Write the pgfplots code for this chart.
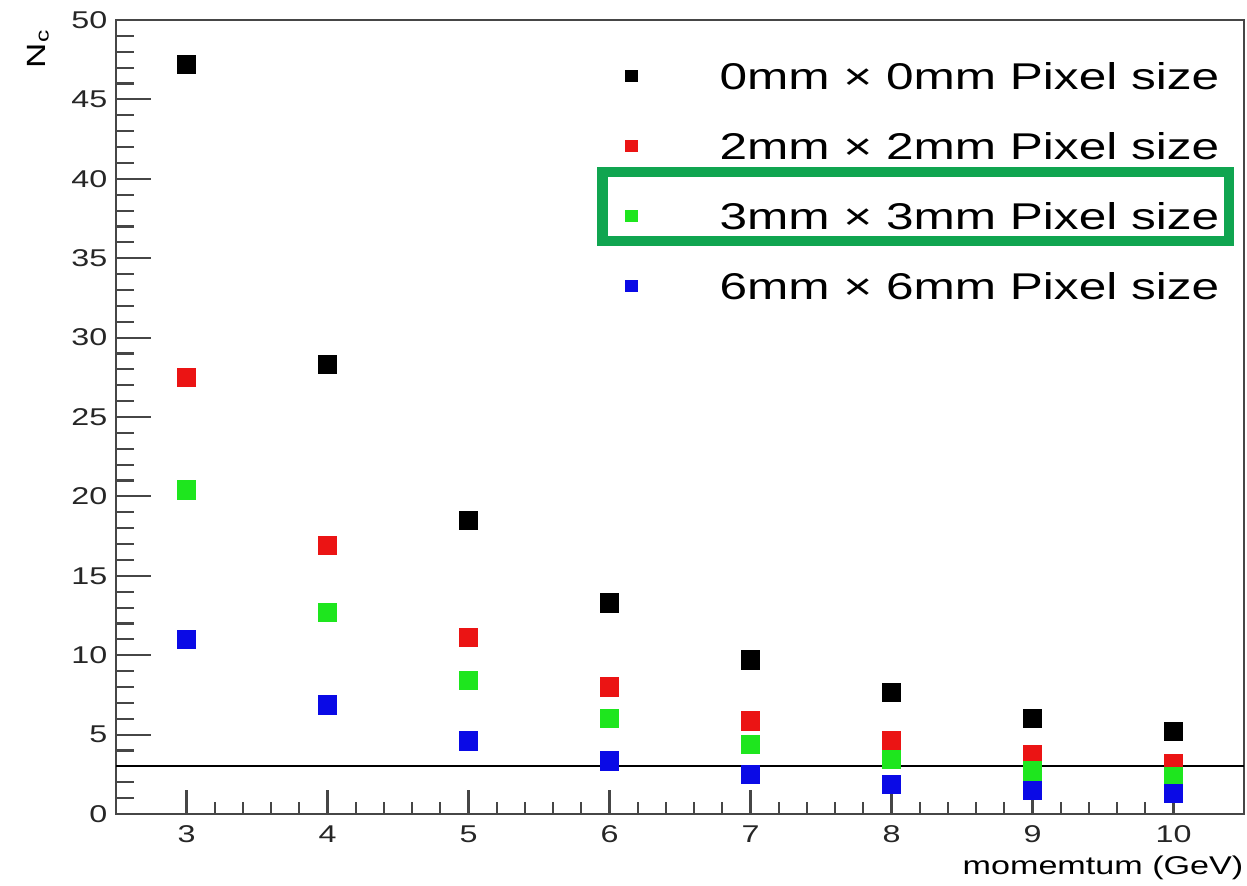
\documentclass[border=0pt]{standalone}
\usepackage{fontspec}
\setmainfont{Liberation Sans}[FakeStretch=1.33]
\usepackage{pgfplots}
\pgfplotsset{compat=1.18}
\usetikzlibrary{calc}
\definecolor{mred}{RGB}{235,20,20}
\definecolor{mgreen}{RGB}{30,230,30}
\definecolor{mblue}{RGB}{10,10,230}
\definecolor{boxgreen}{RGB}{16,165,80}
\definecolor{axgray}{RGB}{70,70,70}

\begin{document}
\begin{tikzpicture}
\begin{axis}[
    width=11.28cm, height=7.94cm,
    scale only axis,
    xmin=2.5, xmax=10.5,
    ymin=0, ymax=50,
    xtick={3,4,...,10},
    ytick={0,5,...,50},
    minor x tick num=4,
    minor y tick num=4,
    tick align=inside,
    xtick pos=bottom, ytick pos=left,
    axis line style={axgray, line width=0.7pt},
    every tick/.style={axgray, line width=0.6pt},
    x tick style={/pgfplots/major tick length=2.4mm, /pgfplots/minor tick length=1.2mm},
    y tick style={/pgfplots/major tick length=3.5mm, /pgfplots/minor tick length=1.8mm},
    /pgf/number format/assume math mode=true,
    ticklabel style={font=\fontsize{6.9}{8}\selectfont, text=black!85},
    yticklabel style={inner sep=0pt, xshift=-0.8mm},
    xticklabel style={inner sep=0pt, yshift=-1.1mm},
    xlabel={momemtum (GeV)},
    ylabel={N\textsubscript{c}},
    every axis x label/.style={at={(rel axis cs:1,0)}, anchor=north east, inner sep=0pt, yshift=-4.1mm, font=\fontsize{7.3}{8}\selectfont},
    every axis y label/.style={at={($(rel axis cs:0,1)+(-0.78cm,-0.08cm)$)}, anchor=east, rotate=90, inner sep=0pt, font=\fontsize{7.5}{8}\selectfont},
    legend style={draw=none, fill=none, at={(rel axis cs:0.9787,0.9477)}, anchor=north east,
        inner sep=0pt, row sep=4.3mm, font=\fontsize{10.6}{12}\selectfont,
        nodes={inner sep=0pt, text height=2.7mm, text depth=0pt}},
    legend cell align=left,
    legend image code/.code={
        \draw[#1, mark size=0.55mm] plot coordinates {(0cm,0cm)};
        \path[draw=none, fill=none] (0cm,0cm) -- (8.8mm,0cm);
    },
]
\coordinate (A) at (rel axis cs:0,0);
\coordinate (B) at (rel axis cs:1,1);
% 0mm x 0mm
\addplot[only marks, mark=square*, mark size=0.9mm, color=black] coordinates {
    (3,47.2) (4,28.3) (5,18.5) (6,13.3) (7,9.7) (8,7.65) (9,6.0) (10,5.18)};
% 2mm x 2mm
\addplot[only marks, mark=square*, mark size=0.9mm, color=mred] coordinates {
    (3,27.5) (4,16.9) (5,11.1) (6,8.0) (7,5.87) (8,4.6) (9,3.71) (10,3.19)};
% 3mm x 3mm
\addplot[only marks, mark=square*, mark size=0.9mm, color=mgreen] coordinates {
    (3,20.4) (4,12.7) (5,8.4) (6,6.0) (7,4.38) (8,3.44) (9,2.7) (10,2.35)};
% 6mm x 6mm
\addplot[only marks, mark=square*, mark size=0.9mm, color=mblue] coordinates {
    (3,11.0) (4,6.86) (5,4.6) (6,3.33) (7,2.5) (8,1.87) (9,1.5) (10,1.3)};
\legend{0mm × 0mm Pixel size, 2mm × 2mm Pixel size, 3mm × 3mm Pixel size, 6mm × 6mm Pixel size}
% threshold line
\addplot[black, line width=0.6pt, forget plot] coordinates {(2.5,3) (10.5,3)};
% highlight box round the 3mm entry
\draw[boxgreen, line width=3.1pt] (rel axis cs:0.4309,0.7217) rectangle (rel axis cs:0.9867,0.8086);
\end{axis}
\pgfresetboundingbox
\path[use as bounding box] ($(A)+(-1.16cm,-0.71cm)$) rectangle ($(B)+(0.03cm,0.20cm)$);
\end{tikzpicture}
\end{document}
